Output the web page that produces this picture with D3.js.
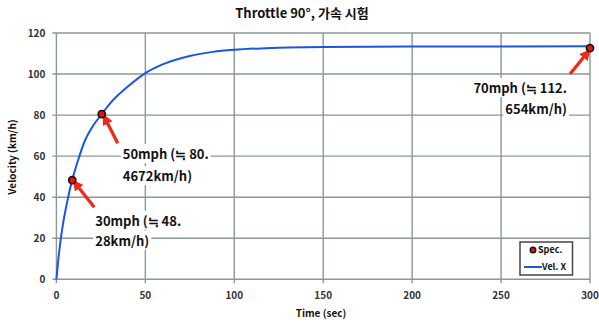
<!DOCTYPE html>
<html><head><meta charset="utf-8">
<script src="https://cdn.jsdelivr.net/npm/d3@7"></script>
<style>html,body{margin:0;padding:0;background:#fff;}svg{display:block;}</style>
</head><body>
<svg id="c" width="599" height="322"></svg>
<script>
// ---- data ----
const timeSec = [0, 1, 2, 3, 4, 6, 8.8, 12, 16, 20, 25.5, 30, 35, 40, 49.4, 60, 75, 88, 100, 115, 130, 150, 200, 300];
const velX    = [0, 9, 16.5, 23, 28.5, 37.5, 48.1, 57.5, 67.5, 74, 80.5, 85.5, 90, 93.8, 100.1, 104.8, 108.8, 110.8, 111.8, 112.5, 112.9, 113.2, 113.4, 113.5];
const specTime = [8.9, 25.5, 300];
const specVel  = [48.28, 80.4672, 112.654];
const specLabel1 = ["30mph (≒ 48.", "50mph (≒ 80.", "70mph (≒ 112."];
const specLabel2 = ["28km/h)", "4672km/h)", "654km/h)"];
const xTicks = [0, 50, 100, 150, 200, 250, 300];
const yTicks = [0, 20, 40, 60, 80, 100, 120];
const title = "Throttle 90°, 가속 시험";
const xTitle = "Time (sec)";
const yTitle = "Velocity (km/h)";
const legendNames = ["Spec.", "Vel. X"];

// ---- layout / style ----
const FONT = "'Noto Sans CJK KR', 'Noto Sans', sans-serif";
const gridCol = "#8a9896";
const x = d3.scaleLinear().domain([0, 300]).range([56.4, 590]);
const y = d3.scaleLinear().domain([0, 120]).range([279.3, 33]);
const svg = d3.select("#c");

// grid
const g = svg.append("g");
g.selectAll("line.h").data(yTicks).join("line")
  .attr("x1", x(0) - 4).attr("x2", x(300))
  .attr("y1", d => y(d)).attr("y2", d => y(d))
  .attr("stroke", gridCol).attr("stroke-width", 1.4);
g.selectAll("line.v").data(xTicks).join("line")
  .attr("x1", d => x(d)).attr("x2", d => x(d))
  .attr("y1", y(120)).attr("y2", y(0) + 4)
  .attr("stroke", gridCol).attr("stroke-width", 1.4);

// tick labels
svg.append("g").selectAll("text").data(yTicks).join("text")
  .attr("x", x(0) - 11).attr("y", d => y(d) + 3.5)
  .attr("text-anchor", "end").attr("font-family", FONT).attr("font-weight", "bold")
  .attr("font-size", 10).attr("fill", "#333").text(d => d);
svg.append("g").selectAll("text").data(xTicks).join("text")
  .attr("x", d => x(d)).attr("y", y(0) + 20)
  .attr("text-anchor", "middle").attr("font-family", FONT).attr("font-weight", "bold")
  .attr("font-size", 10).attr("fill", "#333").text(d => d);

// titles
svg.append("text").attr("x", 302).attr("y", 18).attr("text-anchor", "middle")
  .attr("font-family", FONT).attr("font-weight", "bold").attr("font-size", 13).attr("fill", "#111").text(title);
svg.append("text").attr("x", 321).attr("y", 317).attr("text-anchor", "middle")
  .attr("font-family", FONT).attr("font-weight", "bold").attr("font-size", 10).attr("fill", "#111").text(xTitle);
svg.append("text").attr("transform", "translate(16,157) rotate(-90)").attr("text-anchor", "middle")
  .attr("font-family", FONT).attr("font-weight", "bold").attr("font-size", 10).attr("fill", "#111").text(yTitle);

// annotations (offsets relative to each spec point, in px)
const ann = [
  {ax: 22, ay: 27, tx: 5, ty: 5.5, lx: 23, ly1: 45.5, ly2: 65.5, anchor: "start"},
  {ax: 16, ay: 29, tx: 4.5, ty: 6.5, lx: 21, ly1: 45, ly2: 67, anchor: "start"},
  {ax: -20, ay: 26, tx: -4.5, ty: 7, lx: -23, ly1: 45, ly2: 66, anchor: "end"}
];
const defs = svg.append("defs");
defs.append("marker").attr("id", "ah").attr("viewBox", "0 0 10 10").attr("refX", 3).attr("refY", 5)
  .attr("markerWidth", 3.3).attr("markerHeight", 3.3).attr("orient", "auto")
  .append("path").attr("d", "M0,0 L10,5 L0,10 z").attr("fill", "#ee2a1c");

const annG = svg.append("g");
specTime.forEach((t, i) => {
  const px = x(t), py = y(specVel[i]), a = ann[i];
  annG.append("line").attr("x1", px + a.ax).attr("y1", py + a.ay)
    .attr("x2", px + a.tx).attr("y2", py + a.ty)
    .attr("stroke", "#ee2a1c").attr("stroke-width", 3.3).attr("marker-end", "url(#ah)");
  [[specLabel1[i], a.ly1], [specLabel2[i], a.ly2]].forEach(([s, dy]) => {
    const tg = annG.append("g");
    const tx = tg.append("text").attr("x", px + a.lx).attr("y", py + dy)
      .attr("text-anchor", a.anchor).attr("font-family", FONT).attr("font-weight", "bold")
      .attr("font-size", 13).attr("fill", "#111").text(s);
    const bb = tx.node().getBBox();
    tg.insert("rect", "text").attr("x", bb.x - 2).attr("y", bb.y).attr("width", bb.width + 4)
      .attr("height", bb.height).attr("fill", "#fff");
  });
});

// line
svg.append("path").datum(timeSec.map((t, i) => [t, velX[i]]))
  .attr("d", d3.line().x(d => x(d[0])).y(d => y(d[1])).curve(d3.curveMonotoneX))
  .attr("fill", "none").attr("stroke", "#1a56e0").attr("stroke-width", 2);

// spec points
svg.append("g").selectAll("circle").data(specTime).join("circle")
  .attr("cx", d => x(d)).attr("cy", (d, i) => y(specVel[i])).attr("r", 3.6)
  .attr("fill", "#e8140c").attr("stroke", "#111").attr("stroke-width", 1.6);

// legend
const lg = svg.append("g");
lg.append("rect").attr("x", 520).attr("y", 242).attr("width", 52.5).attr("height", 33)
  .attr("fill", "#fff").attr("stroke", "#444").attr("stroke-width", 1.5);
lg.append("circle").attr("cx", 533).attr("cy", 250).attr("r", 2.8)
  .attr("fill", "#e8140c").attr("stroke", "#111").attr("stroke-width", 1.4);
lg.append("line").attr("x1", 524).attr("x2", 542).attr("y1", 267).attr("y2", 267)
  .attr("stroke", "#1a56e0").attr("stroke-width", 2);
lg.selectAll("text").data(legendNames).join("text")
  .attr("x", (d, i) => i === 0 ? 538 : 542).attr("y", (d, i) => i === 0 ? 253 : 270)
  .attr("font-family", FONT).attr("font-weight", "bold").attr("font-size", 9).attr("fill", "#111").text(d => d);
</script>
</body></html>
